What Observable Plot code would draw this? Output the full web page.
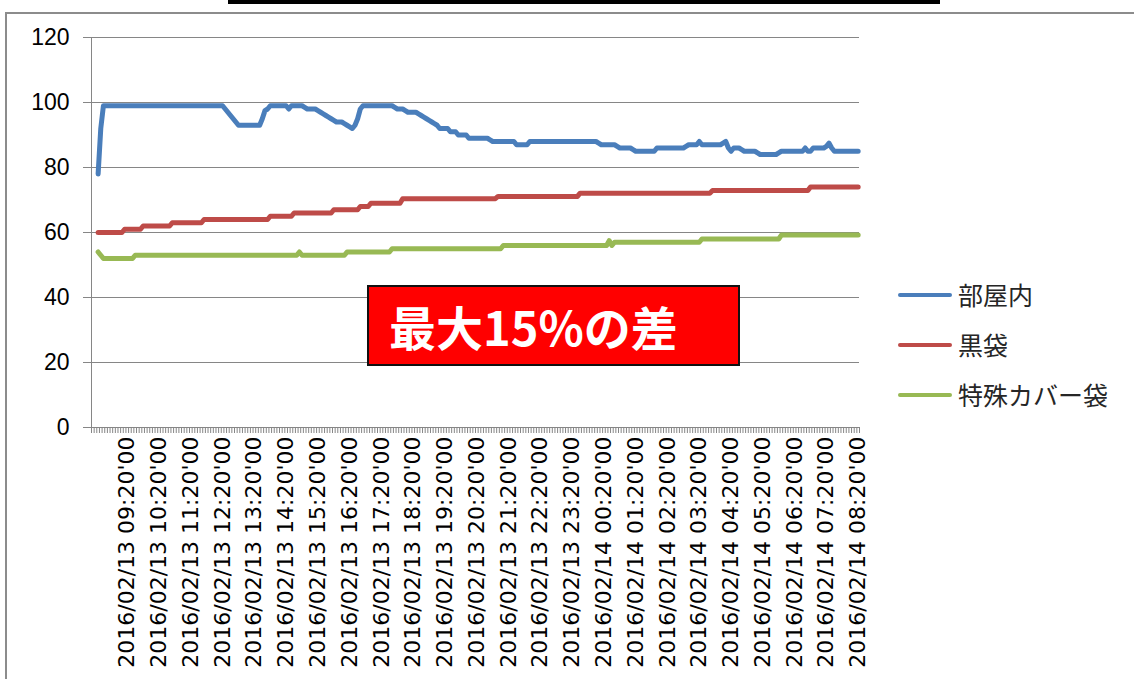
<!DOCTYPE html>
<html>
<head>
<meta charset="utf-8">
<script src="https://cdn.jsdelivr.net/npm/d3@7"></script>
<script src="https://cdn.jsdelivr.net/npm/@observablehq/plot@0.6"></script>
<style>
  html, body { margin: 0; padding: 0; background: #fff; }
  #wrap { position: relative; width: 1134px; height: 679px; overflow: hidden; background: #fff; }
  #topbar { position: absolute; left: 228px; top: 0; width: 712px; height: 4px; background: #000; }
  #frameTop { position: absolute; left: 5px; top: 12px; width: 1129px; height: 2px; background: #8c8c8c; }
  #frameLeft { position: absolute; left: 5px; top: 12px; width: 2px; height: 667px; background: #8c8c8c; }
  #chart { position: absolute; left: 0; top: 0; }
  #note { position: absolute; left: 367px; top: 285px; width: 349px; height: 77px; background: #ff0000;
          border: 2px solid #111; color: #fff; font-family: "Noto Sans CJK JP", sans-serif; font-weight: 700;
          font-size: 47px; line-height: 77px; padding-left: 20px; box-sizing: content-box; white-space: nowrap; }
  .legend { position: absolute; left: 898px; font-family: "Noto Sans CJK JP", sans-serif; font-size: 25px; color: #262626; }
  .legend .sw { position: absolute; left: 0; width: 54px; height: 4px; border-radius: 2px; }
  .legend .lb { position: absolute; left: 60px; white-space: nowrap; line-height: 30px; }
  .xlab text { font-family: "DejaVu Sans", sans-serif; }
</style>
</head>
<body>
<div id="wrap">
  <div id="topbar"></div>
  <div id="frameTop"></div>
  <div id="frameLeft"></div>
  <div id="chart"></div>
  <div id="note">最大15%の差</div>
  <div id="legend"></div>
</div>
<script>
// ---- Data (5-minute readings, 2016/02/13 08:25 → 2016/02/14 08:20) ----
const seriesNames = ["部屋内", "黒袋", "特殊カバー袋"];
const seriesColors = ["#4A7EBB", "#BE4B48", "#98B954"];
const yTicks = [0, 20, 40, 60, 80, 100, 120];
const labelTimes = [
  "2016/02/13 09:20'00","2016/02/13 10:20'00","2016/02/13 11:20'00","2016/02/13 12:20'00",
  "2016/02/13 13:20'00","2016/02/13 14:20'00","2016/02/13 15:20'00","2016/02/13 16:20'00",
  "2016/02/13 17:20'00","2016/02/13 18:20'00","2016/02/13 19:20'00","2016/02/13 20:20'00",
  "2016/02/13 21:20'00","2016/02/13 22:20'00","2016/02/13 23:20'00","2016/02/14 00:20'00",
  "2016/02/14 01:20'00","2016/02/14 02:20'00","2016/02/14 03:20'00","2016/02/14 04:20'00",
  "2016/02/14 05:20'00","2016/02/14 06:20'00","2016/02/14 07:20'00","2016/02/14 08:20'00"
];
// one row per hour: hh:25 … (hh+1):20
const room = [
  78,92,99,99,99,99,99,99,99,99,99,99,
  99,99,99,99,99,99,99,99,99,99,99,99,
  99,99,99,99,99,99,99,99,99,99,99,99,
  99,99,99,99,99,99,99,99,99,99,99,99,
  98,97,96,95,94,93,93,93,93,93,93,93,
  93,93,95,97.5,98,99,99,99,99,99,99,99,
  98,99,99,99,99,99,98.5,98,98,98,98,97.5,
  97,96.5,96,95.5,95,94.5,94,94,94,93.5,93,92.5,
  92,93,95,98,99,99,99,99,99,99,99,99,
  99,99,99,99,98.5,98,98,98,97.5,97,97,97,
  97,96.5,96,95.5,95,94.5,94,93.5,93,92,92,92,
  92,91,91,91,90,90,90,90,89,89,89,89,
  89,89,89,89,88.5,88,88,88,88,88,88,88,
  88,88,87,87,87,87,87,88,88,88,88,88,
  88,88,88,88,88,88,88,88,88,88,88,88,
  88,88,88,88,88,88,88,88,88,87.5,87,87,
  87,87,87,87,86.5,86,86,86,86,86,85.5,85,
  85,85,85,85,85,85,85,86,86,86,86,86,
  86,86,86,86,86,86,86.5,87,87,87,87,88,
  87,87,87,87,87,87,87,87,87.5,88,86,85,
  86,86,86,85.5,85,85,85,85,85,84.5,84,84,
  84,84,84,84,84,84.5,85,85,85,85,85,85,
  85,85,85,86,85,85,86,86,86,86,86,86.5,
  87.5,86,85,85,85,85,85,85,85,85,85,85
];
const blackBag = [
  60,60,60,60,60,60,60,60,60,60,61,61,
  61,61,61,61,61,62,62,62,62,62,62,62,
  62,62,62,62,63,63,63,63,63,63,63,63,
  63,63,63,63,64,64,64,64,64,64,64,64,
  64,64,64,64,64,64,64,64,64,64,64,64,
  64,64,64,64,64,65,65,65,65,65,65,65,
  65,65,66,66,66,66,66,66,66,66,66,66,
  66,66,66,66,66,67,67,67,67,67,67,67,
  67,67,67,68,68,68,68,69,69,69,69,69,
  69,69,69,69,69,69,69,70.4,70.4,70.4,70.4,70.4,
  70.4,70.4,70.4,70.4,70.4,70.4,70.4,70.4,70.4,70.4,70.4,70.4,
  70.4,70.4,70.4,70.4,70.4,70.4,70.4,70.4,70.4,70.4,70.4,70.4,
  70.4,70.4,70.4,70.4,70.4,70.4,70.4,71.1,71.1,71.1,71.1,71.1,
  71.1,71.1,71.1,71.1,71.1,71.1,71.1,71.1,71.1,71.1,71.1,71.1,
  71.1,71.1,71.1,71.1,71.1,71.1,71.1,71.1,71.1,71.1,71.1,71.1,
  71.1,71.1,72.1,72.1,72.1,72.1,72.1,72.1,72.1,72.1,72.1,72.1,
  72.1,72.1,72.1,72.1,72.1,72.1,72.1,72.1,72.1,72.1,72.1,72.1,
  72.1,72.1,72.1,72.1,72.1,72.1,72.1,72.1,72.1,72.1,72.1,72.1,
  72.1,72.1,72.1,72.1,72.1,72.1,72.1,72.1,72.1,72.1,72.1,72.1,
  72.1,72.1,72.1,72.1,72.9,72.9,72.9,72.9,72.9,72.9,72.9,72.9,
  72.9,72.9,72.9,72.9,72.9,72.9,72.9,72.9,72.9,72.9,72.9,72.9,
  72.9,72.9,72.9,72.9,72.9,72.9,72.9,72.9,72.9,72.9,72.9,72.9,
  72.9,72.9,72.9,72.9,72.9,74,74,74,74,74,74,74,
  74,74,74,74,74,74,74,74,74,74,74,74
];
const coverBag = [
  54,53,52,52,52,52,52,52,52,52,52,52,
  52,52,53,53,53,53,53,53,53,53,53,53,
  53,53,53,53,53,53,53,53,53,53,53,53,
  53,53,53,53,53,53,53,53,53,53,53,53,
  53,53,53,53,53,53,53,53,53,53,53,53,
  53,53,53,53,53,53,53,53,53,53,53,53,
  53,53,53,53,54,53,53,53,53,53,53,53,
  53,53,53,53,53,53,53,53,53,53,54,54,
  54,54,54,54,54,54,54,54,54,54,54,54,
  54,54,54,55,55,55,55,55,55,55,55,55,
  55,55,55,55,55,55,55,55,55,55,55,55,
  55,55,55,55,55,55,55,55,55,55,55,55,
  55,55,55,55,55,55,55,55,55,56,56,56,
  56,56,56,56,56,56,56,56,56,56,56,56,
  56,56,56,56,56,56,56,56,56,56,56,56,
  56,56,56,56,56,56,56,56,56,56,56,56,
  56,57.5,56,57,57,57,57,57,57,57,57,57,
  57,57,57,57,57,57,57,57,57,57,57,57,
  57,57,57,57,57,57,57,57,57,57,57,57,
  58,58,58,58,58,58,58,58,58,58,58,58,
  58,58,58,58,58,58,58,58,58,58,58,58,
  58,58,58,58,58,58,59.2,59.2,59.2,59.2,59.2,59.2,
  59.2,59.2,59.2,59.2,59.2,59.2,59.2,59.2,59.2,59.2,59.2,59.2,
  59.2,59.2,59.2,59.2,59.2,59.2,59.2,59.2,59.2,59.2,59.2,59.2
];

// ---- Build table ----
const parseLab = d3.utcParse("%Y/%m/%d %H:%M'%S");
const fmtLab = d3.utcFormat("%Y/%m/%d %H:%M'%S");
const times = d3.utcMinute.every(5).range(new Date(Date.UTC(2016,1,13,8,25)), new Date(Date.UTC(2016,1,14,8,25)));
const seriesValues = [room, blackBag, coverBag];
const data = [];
seriesNames.forEach((name, s) => {
  seriesValues[s].forEach((v, i) => data.push({series: name, t: times[i], v}));
});
// category axis: one category per 5 minutes, categories centred on readings
const step = 5 * 60000;
const firstCat = +new Date(Date.UTC(2016,1,13,8,15));
const nCats = 290;
const x0 = new Date(firstCat - step / 2);
const x1 = new Date(firstCat + (nCats - 1) * step + step / 2);
const boundaries = d3.range(nCats + 1).map(i => new Date(+x0 + i * step));
const labelDates = labelTimes.map(parseLab);

const chart = Plot.plot({
  width: 1134,
  height: 679,
  marginLeft: 91,
  marginRight: 275,
  marginTop: 37,
  marginBottom: 252,
  style: {fontFamily: "'Liberation Sans', Arial, sans-serif", fontSize: "22px", color: "#000", background: "transparent", overflow: "visible"},
  x: {type: "utc", domain: [x0, x1]},
  y: {domain: [0, 120]},
  color: {domain: seriesNames, range: seriesColors},
  marks: [
    Plot.gridY(yTicks, {stroke: "#868686", strokeOpacity: 1, strokeWidth: 1}),
    Plot.axisY({ticks: yTicks, tickSize: 8, tickPadding: 14, stroke: "#868686", strokeOpacity: 1, fontSize: 23, label: null}),
    Plot.ruleX([x0], {stroke: "#868686", strokeWidth: 1}),
    Plot.axisX({ticks: boundaries, tickSize: 6, tickPadding: 0, tickFormat: () => "", stroke: "#868686", strokeOpacity: 1, label: null}),
    Plot.axisX({ticks: labelDates, tickSize: 0, tickPadding: 9, tickRotate: -90, tickFormat: fmtLab,
                fontSize: 22, className: "xlab", label: null, fill: "#000"}),
    Plot.line(data, {x: "t", y: "v", z: "series", stroke: "series", strokeWidth: 5,
                     strokeLinejoin: "round", strokeLinecap: "round"})
  ]
});
document.getElementById("chart").appendChild(chart);

// ---- Legend ----
const legend = document.getElementById("legend");
const legendY = [295, 345, 395];
seriesNames.forEach((name, i) => {
  const item = document.createElement("div");
  item.className = "legend";
  item.style.top = (legendY[i]) + "px";
  item.innerHTML = `<div class="sw" style="top:-2px;background:${seriesColors[i]}"></div><div class="lb" style="top:-16px">${name}</div>`;
  legend.appendChild(item);
});
</script>
</body>
</html>
